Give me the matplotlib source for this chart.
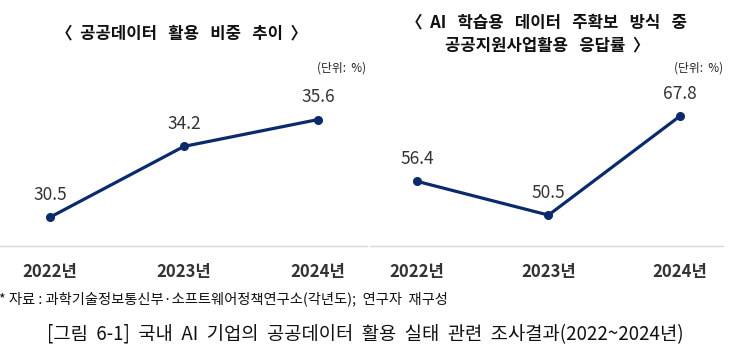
import matplotlib
matplotlib.use("Agg")
import matplotlib.pyplot as plt

plt.rcParams['font.family'] = ['Noto Sans CJK KR', 'DejaVu Sans']

years = ["2022년", "2023년", "2024년"]
share_values = [30.5, 34.2, 35.6]
response_values = [56.4, 50.5, 67.8]

title_left = "〈  공공데이터   활용   비중   추이  〉"
title_right = "〈  AI   학습용   데이터   주확보   방식   중\n공공지원사업활용   응답률  〉"
unit_text = "(단위:  %)"
source_text = "* 자료 : 과학기술정보통신부·소프트웨어정책연구소(각년도);  연구자  재구성"
caption_text = "[그림  6-1]  국내  AI  기업의  공공데이터  활용  실태  관련  조사결과(2022~2024년)"

W, H = 730, 362
fig = plt.figure(figsize=(W / 100, H / 100), dpi=100)

line_color = "#0b2a6b"
text_color = "#333333"


def px_axes(x0, x1, ytop, ybot):
    return fig.add_axes([x0 / W, 1 - ybot / H, (x1 - x0) / W, (ybot - ytop) / H])


def draw_panel(ax, values, xlim, ylim):
    xs = list(range(len(values)))
    ax.plot(xs, values, color=line_color, lw=2.3, marker="o", ms=5.5,
            solid_capstyle="round", zorder=3)
    for x, v in zip(xs, values):
        ax.annotate(f"{v:.1f}", (x, v), xytext=(0, 16), textcoords="offset points",
                    ha="center", va="center", fontsize=12.5, color=text_color,
                    fontweight="medium")
    ax.set_xlim(*xlim)
    ax.set_ylim(*ylim)
    ax.set_xticks(xs)
    ax.set_xticklabels(years, fontsize=12, fontweight="bold", color=text_color)
    ax.tick_params(axis="x", length=0, pad=12)
    ax.set_yticks([])
    for s in ["top", "left", "right"]:
        ax.spines[s].set_visible(False)
    ax.spines["bottom"].set_color("#d9d9d9")
    ax.spines["bottom"].set_linewidth(1.0)
    ax.patch.set_alpha(0)


ax1 = px_axes(0, 367, 60, 246)
draw_panel(ax1, share_values, (-0.373, 2.366), (29.0, 38.71))

ax2 = px_axes(370, 723, 60, 246)
draw_panel(ax2, response_values, (-0.357, 2.327), (45.1, 77.6))

fig.text(182 / W, 1 - 33 / H, title_left, ha="center", va="center",
         fontsize=12, fontweight="bold", color="#111111")
fig.text(547 / W, 1 - 34 / H, title_right, ha="center", va="center",
         fontsize=12, fontweight="bold", color="#111111", linespacing=1.3)

fig.text(366 / W, 1 - 68 / H, unit_text, ha="right", va="center", fontsize=8.5, color="#222222")
fig.text(723 / W, 1 - 68 / H, unit_text, ha="right", va="center", fontsize=8.5, color="#222222")

fig.text(-1 / W, 1 - 299 / H, source_text, ha="left", va="center", fontsize=10.3, color="#111111")
fig.text(365 / W, 1 - 335 / H, caption_text, ha="center", va="center", fontsize=13.5, color="#111111")

fig.savefig("out.png", dpi=100)
